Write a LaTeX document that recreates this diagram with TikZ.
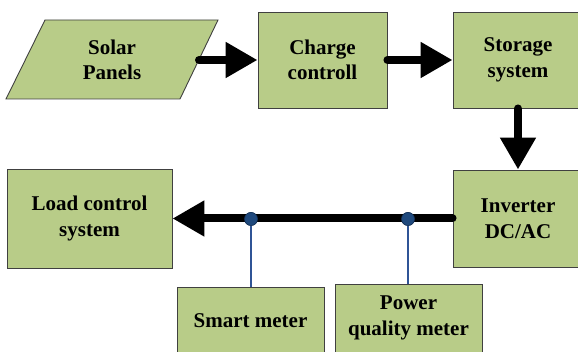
\documentclass[tikz,border=0pt]{standalone}
\usepackage{fontspec}
\setmainfont{Liberation Serif}[BoldFont={Liberation Serif Bold}]
\usetikzlibrary{arrows.meta}
\definecolor{boxgreen}{RGB}{184,204,136}
\definecolor{boxline}{RGB}{64,64,64}
\definecolor{dotblue}{RGB}{31,73,125}
\definecolor{wireblue}{RGB}{47,84,150}
\begin{document}
\begin{tikzpicture}[x=1pt,y=1pt,
  box/.style={draw=boxline,fill=boxgreen,line width=0.9pt},
  blk/.style={box,rectangle,minimum width=#1,align=center,inner sep=0pt},
  lbl/.style={align=center,font=\fontsize{21}{25.5}\selectfont\bfseries},
  flow/.style={line width=8pt,line cap=round,-{Triangle[length=32pt,width=34pt]}},
  wire/.style={draw=wireblue,line width=2pt},
  tap/.style={circle,fill=dotblue,draw=dotblue!70!black,line width=0.6pt,minimum size=13pt,inner sep=0pt}]
\useasboundingbox (0,0) rectangle (578,352);
% Solar panels (parallelogram)
\draw[box] (45,332) -- (218,332) -- (180,253) -- (6,253) -- cycle;
\node[lbl] (solar) at (112,292) {Solar\\Panels};
\coordinate (solarR) at (199,292);
% boxes
\node[blk=129pt,minimum height=96pt,lbl] (charge) at (322.5,292) {Charge\\controll};
\node[blk=130pt,minimum height=96pt,lbl] (storage) at (518,292) {Storage\\system};
\node[blk=130pt,minimum height=97pt,lbl] (inverter) at (518,133.5) {Inverter\\DC/AC};
\node[blk=165pt,minimum height=99pt,lbl] (load) at (89.5,133.5) {Load control\\system};
\node[blk=147pt,minimum height=68pt,lbl] (smart) at (250.5,31) {Smart meter};
\node[blk=147pt,minimum height=68pt,lbl] (pq) at (408.5,34) {Power\\quality meter};
% taps
\node[tap] (tap1) at (251,133) {};
\node[tap] (tap2) at (408,133) {};
% wires
\draw[wire] (tap1) -- (tap1 |- smart.north);
\draw[wire] (tap2) -- (tap2 |- pq.north);
% flows
\draw[flow] (solarR) -- (charge.west);
\draw[flow] (charge.east) -- (storage.west);
\draw[flow] (storage.south) -- (inverter.north);
\draw[flow] (inverter.west) -- (load.east);
% redraw taps above the bus
\node[tap] at (tap1) {};
\node[tap] at (tap2) {};
\end{tikzpicture}
\end{document}
